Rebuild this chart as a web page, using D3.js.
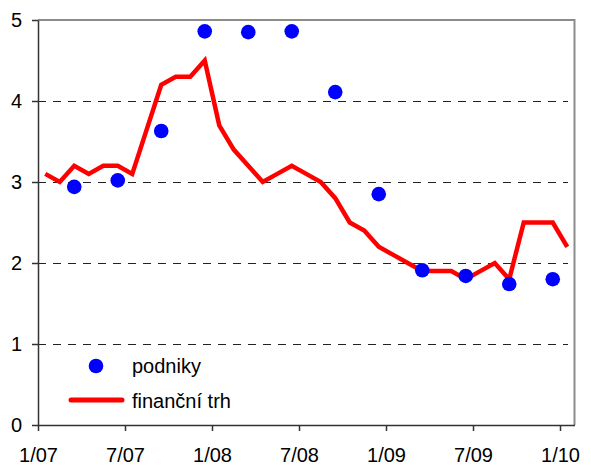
<!DOCTYPE html>
<html>
<head>
<meta charset="utf-8">
<script src="https://cdn.jsdelivr.net/npm/d3@7/dist/d3.min.js"></script>
<style>
  html, body { margin: 0; padding: 0; background: #fff; }
  svg { display: block; font-family: "Liberation Sans", Arial, sans-serif; }
</style>
</head>
<body>
<svg id="chart" width="591" height="465"></svg>
<script>
// Monthly categories, January 2007 to January 2010
const months = [
  "1/07","2/07","3/07","4/07","5/07","6/07","7/07","8/07","9/07","10/07","11/07","12/07",
  "1/08","2/08","3/08","4/08","5/08","6/08","7/08","8/08","9/08","10/08","11/08","12/08",
  "1/09","2/09","3/09","4/09","5/09","6/09","7/09","8/09","9/09","10/09","11/09","12/09",
  "1/10"
];

// finanční trh – monthly series
const financniTrh = [
  3.1, 3.0, 3.2, 3.1, 3.2, 3.2, 3.1, 3.65, 4.2, 4.3, 4.3, 4.5,
  3.7, 3.4, 3.2, 3.0, 3.1, 3.2, 3.1, 3.0, 2.8, 2.5, 2.4, 2.2,
  2.1, 2.0, 1.9, 1.9, 1.9, 1.8, 1.9, 2.0, 1.8, 2.5, 2.5, 2.5,
  2.2
];

// podniky – quarterly observations
const podnikyMonths = ["3/07","6/07","9/07","12/07","3/08","6/08","9/08","12/08","3/09","6/09","9/09","12/09"];
const podnikyValues = [2.94, 3.02, 3.63, 4.86, 4.85, 4.86, 4.11, 2.85, 1.91, 1.84, 1.74, 1.80];

const xTickLabels = ["1/07","7/07","1/08","7/08","1/09","7/09","1/10"];
const yTicks = [0, 1, 2, 3, 4, 5];
const legendLabels = ["podniky", "finanční trh"];

const svg = d3.select("#chart");
const plotLeft = 38, plotRight = 574.5, plotTop = 20, plotBottom = 425;

// month index scale: each month occupies one unit, values sit mid-month
const x = d3.scaleLinear().domain([0, months.length]).range([plotLeft, plotRight]);
const y = d3.scaleLinear().domain([0, 5]).range([plotBottom, plotTop]);
const xm = label => x(months.indexOf(label) + 0.5);

// dashed horizontal gridlines
svg.append("g")
  .selectAll("line")
  .data(yTicks.filter(v => v > 0 && v < 5))
  .join("line")
  .attr("x1", plotLeft).attr("x2", 568)
  .attr("y1", d => Math.round(y(d)) + 0.5).attr("y2", d => Math.round(y(d)) + 0.5)
  .attr("stroke", "#222").attr("stroke-width", 1)
  .attr("stroke-dasharray", "8,7");

// top and right frame
svg.append("path")
  .attr("d", `M${plotLeft},${plotTop}H${plotRight}V${plotBottom}`)
  .attr("fill", "none").attr("stroke", "#8c8c8c").attr("stroke-width", 2);

// axes
const yAxis = d3.axisLeft(y).tickValues(yTicks).tickFormat(d3.format("d"))
  .tickSize(6).tickSizeOuter(0).tickPadding(10);
const gy = svg.append("g").attr("transform", `translate(${plotLeft},0)`).call(yAxis);
gy.select(".domain").attr("stroke", "#333").attr("stroke-width", 1.5);
gy.selectAll(".tick line").attr("stroke", "#333").attr("stroke-width", 1.5);
gy.selectAll(".tick text").attr("font-size", 20).attr("fill", "#000")
  .attr("font-family", "Liberation Sans, Arial, sans-serif");

const xAxis = d3.axisBottom(x)
  .tickValues(xTickLabels.map(l => months.indexOf(l)))
  .tickFormat(i => months[i])
  .tickSize(6).tickSizeOuter(0).tickPadding(17);
const gx = svg.append("g").attr("transform", `translate(0,${plotBottom})`).call(xAxis);
gx.select(".domain").attr("stroke", "#333").attr("stroke-width", 1.5);
gx.selectAll(".tick line").attr("stroke", "#333").attr("stroke-width", 1.5);
gx.selectAll(".tick text").attr("font-size", 20).attr("fill", "#000")
  .attr("font-family", "Liberation Sans, Arial, sans-serif");

// finanční trh line
const line = d3.line()
  .x((d, i) => x(i + 0.5))
  .y(d => y(d));
svg.append("path")
  .datum(financniTrh)
  .attr("d", line)
  .attr("fill", "none")
  .attr("stroke", "#ff0000")
  .attr("stroke-width", 4.5)
  .attr("stroke-linejoin", "miter");

// podniky dots
svg.append("g")
  .selectAll("circle")
  .data(podnikyValues)
  .join("circle")
  .attr("cx", (d, i) => xm(podnikyMonths[i]))
  .attr("cy", d => y(d))
  .attr("r", 7.3)
  .attr("fill", "#0000ff");

// legend
const lg = svg.append("g");
lg.append("circle").attr("cx", 96).attr("cy", 366).attr("r", 7.3).attr("fill", "#0000ff");
lg.append("line").attr("x1", 71).attr("x2", 122).attr("y1", 400).attr("y2", 400)
  .attr("stroke", "#ff0000").attr("stroke-width", 5).attr("stroke-linecap", "round");
lg.selectAll("text")
  .data(legendLabels)
  .join("text")
  .attr("x", 132)
  .attr("y", (d, i) => [373, 408][i])
  .attr("font-size", 20)
  .attr("fill", "#000")
  .text(d => d);
</script>
</body>
</html>
